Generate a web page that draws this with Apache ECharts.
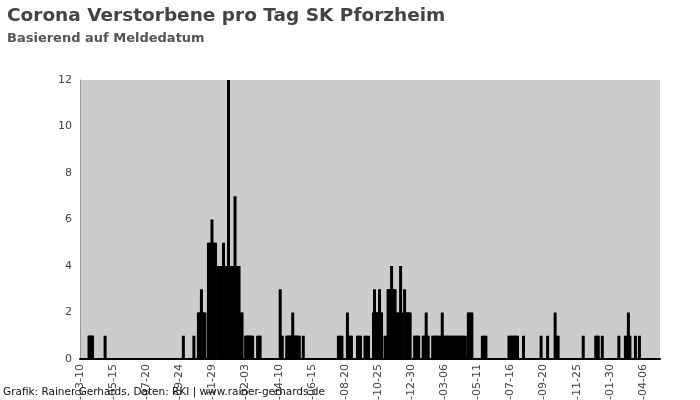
<!DOCTYPE html>
<html>
<head>
<meta charset="utf-8">
<script src="https://cdn.jsdelivr.net/npm/echarts@6/dist/echarts.min.js"></script>
<style>html,body{margin:0;padding:0;background:#fff}#c{width:700px;height:400px}</style>
</head>
<body>
<div id="c"></div>
<script>
// Day 0 = 2020-03-10; one category per day
var startDate = '2020-03-10';
var dayCount = 1157;
var yTicks = [0, 2, 4, 6, 8, 10, 12];

// [day index since 2020-03-10, deaths] — nonzero days
var wave2020Spring = [[18,1],[19,1],[21,1],[22,1],[24,1],[25,1],[50,1]];
var wave2020Autumn = [[206,1],[227,1],[236,2],[238,2],[240,1],[241,2],[242,3],[244,2],[246,2],[247,1],[249,2],
  [256,5],[258,5],[260,3],[261,5],[263,6],[265,5],[266,4],[268,5],[270,5],
  [276,4],[278,4],[279,3],[281,4],[283,4],[284,2],[286,5],[288,4],[290,4],[291,3],[293,4],[294,4],[296,12],
  [298,4],[300,3],[301,4],[303,4],[305,4],[306,2],[308,4],[309,7],[311,4],[313,4],[315,3],[317,4],
  [321,2],[323,2],[330,1],[332,1],[334,1],[336,1],[338,1],[340,1],[342,1],[344,1],[354,1],[357,1],[359,1]];
var wave2021Spring = [[399,3],[401,1],[403,1],[412,1],[414,1],[416,1],[418,1],[420,1],[422,1],[424,2],[426,1],
  [428,1],[430,1],[432,1],[434,1],[437,1],[445,1]];
var wave2021Autumn = [[515,1],[518,1],[522,1],[533,2],[536,1],[539,1],[541,1],[553,1],[556,1],[559,1],
  [568,1],[571,1],[575,1],[585,2],[587,3],[589,2],[591,2],[593,2],[595,2],[597,3],[599,2],[601,2],
  [608,1],[611,1],[614,3],[617,3],[619,3],[621,4],[623,3],[626,3],[628,3],[632,2],[635,2],[639,4],
  [642,2],[647,3],[650,2],[653,2],[655,2],[658,2],[667,1],[670,1],[672,1],[675,1],
  [684,1],[687,1],[690,2],[692,1],[694,1],[703,1],[706,1],[709,1],[711,1],[714,1],[717,1],[720,1],[722,2],
  [725,1],[728,1],[731,1],[734,1],[737,1],[740,1],[743,1],[746,1],[749,1],[752,1],[755,1],[758,1],[761,1],[764,1],
  [768,1],[774,2],[777,2],[781,2]];
var wave2022 = [[802,1],[806,1],[809,1],[855,1],[858,1],[861,1],[864,1],[867,1],[869,1],[872,1],[884,1],
  [919,1],[932,1],[947,2],[950,1],[953,1],[1003,1],[1028,1],[1031,1],[1033,1],[1041,1],[1074,1],
  [1087,1],[1090,1],[1093,2],[1096,1],[1107,1],[1115,1]];

function pad(n){return n<10?'0'+n:''+n;}
var categories = [];
var d0 = new Date(startDate + 'T00:00:00Z');
for (var i = 0; i < dayCount; i++) {
  var d = new Date(d0.getTime() + i*86400000);
  categories.push(d.getUTCFullYear() + '-' + pad(d.getUTCMonth()+1) + '-' + pad(d.getUTCDate()));
}
var values = categories.map(function(){return 0;});
[wave2020Spring, wave2020Autumn, wave2021Spring, wave2021Autumn, wave2022].forEach(function(w){
  w.forEach(function(p){ values[p[0]] = p[1]; });
});

var chart = echarts.init(document.getElementById('c'), null, {renderer:'canvas'});
chart.setOption({
  animation: false,
  backgroundColor: '#ffffff',
  title: {
    text: 'Corona Verstorbene pro Tag SK Pforzheim',
    subtext: 'Basierend auf Meldedatum',
    left: 2, top: 2, itemGap: 6,
    textStyle: {fontFamily: 'DejaVu Sans', fontSize: 18.5, fontWeight: 'bold', color: '#444444'},
    subtextStyle: {fontFamily: 'DejaVu Sans', fontSize: 13, fontWeight: 'bold', color: '#555555'}
  },
  grid: {left: 80, right: 40, top: 80, bottom: 41, show: true, backgroundColor: '#cccccc', borderWidth: 0,
    containLabel: false, outerBoundsMode: 'none'},
  xAxis: {
    type: 'category',
    data: categories,
    boundaryGap: false,
    axisLine: {lineStyle: {color: '#000000', width: 2}},
    axisTick: {show: false},
    axisLabel: {interval: 65, rotate: 90, margin: 5, fontFamily: 'DejaVu Sans', fontSize: 11, color: '#444444'},
    splitLine: {show: false}
  },
  yAxis: {
    type: 'value',
    min: yTicks[0], max: yTicks[yTicks.length-1], interval: 2,
    axisLine: {show: true, lineStyle: {color: '#999999', width: 1}},
    axisTick: {show: false},
    axisLabel: {fontFamily: 'DejaVu Sans', fontSize: 11, color: '#444444', margin: 8},
    splitLine: {show: false}
  },
  series: [{
    type: 'bar',
    data: values,
    barWidth: 3,
    itemStyle: {color: '#000000'},
    silent: true
  }],
  graphic: [{
    type: 'text', left: 3, top: 387, z: 100,
    style: {text: 'Grafik: Rainer Gerhards, Daten: RKI | www.rainer-gerhards.de',
      fontFamily: 'DejaVu Sans', fontSize: 10.5, fill: '#111111'}
  }]
});
</script>
</body>
</html>
